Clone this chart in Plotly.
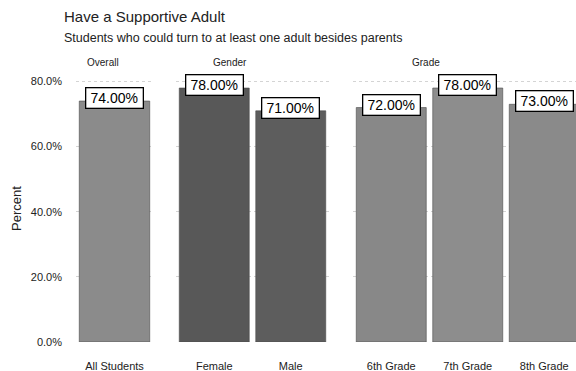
import plotly.graph_objects as go

# Data
overall_cats = ["All Students"]
overall_vals = [74]
gender_cats = ["Female", "Male"]
gender_vals = [78, 71]
grade_cats = ["6th Grade", "7th Grade", "8th Grade"]
grade_vals = [72, 78, 73]
panel_titles = ["Overall", "Gender", "Grade"]
y_ticks = [0, 20, 40, 60, 80]

overall_colors = ["#8b8b8b"]
gender_colors = ["#585858", "#5d5d5d"]
grade_colors = ["#888888", "#8d8d8d", "#8a8a8a"]

FONT = "Liberation Sans, Arial, sans-serif"
W, H = 576, 371
L, R, T, B = 76, 0, 75, 29
PW, PH = W - L - R, H - T - B


def px_x(px):
    return (px - L) / PW


def px_y(py):
    return (H - B - py) / PH


panels = [
    dict(cats=overall_cats, vals=overall_vals, colors=overall_colors, ax="x",
         domain=[px_x(76), px_x(153)], rng=[-0.5, 0.5], title_px=103),
    dict(cats=gender_cats, vals=gender_vals, colors=gender_colors, ax="x2",
         domain=[px_x(176), px_x(329)], rng=[-0.5, 1.5], title_px=230),
    dict(cats=grade_cats, vals=grade_vals, colors=grade_colors, ax="x3",
         domain=[px_x(353), px_x(576)], rng=[-0.5, 2.415], title_px=426),
]

fig = go.Figure()
annotations = []

for i, p in enumerate(panels):
    fig.add_trace(go.Bar(
        x=p["cats"], y=p["vals"], xaxis=p["ax"], yaxis="y",
        marker=dict(color=p["colors"], line=dict(color="#4a4a4a", width=0.6)),
        showlegend=False, hoverinfo="x+y",
    ))
    axname = "xaxis" if p["ax"] == "x" else "xaxis" + p["ax"][1:]
    fig.layout[axname] = dict(
        domain=p["domain"], range=p["rng"], type="category", anchor="y",
        showgrid=False, zeroline=False, showline=False, ticks="",
        ticklabelstandoff=16,
        tickfont=dict(family=FONT, size=11, color="#222"),
        fixedrange=True,
    )
    for c, v in zip(p["cats"], p["vals"]):
        annotations.append(dict(
            x=c, y=v, xref=p["ax"], yref="y", text=f"{v:.2f}%",
            showarrow=False, yshift=3, yanchor="middle", xanchor="center",
            width=52, height=15,
            bgcolor="white", bordercolor="black", borderwidth=1.3, borderpad=2,
            font=dict(family=FONT, size=14, color="black"),
        ))
    annotations.append(dict(
        x=px_x(p["title_px"]), y=px_y(62), xref="paper", yref="paper",
        text=panel_titles[i], showarrow=False, xanchor="center", yanchor="middle",
        font=dict(family=FONT, size=10, color="#222"),
    ))

annotations.append(dict(
    x=px_x(62), y=px_y(17), xref="paper", yref="paper",
    text="Have a Supportive Adult", showarrow=False, xanchor="left", yanchor="middle",
    font=dict(family=FONT, size=15, color="#222"),
))
annotations.append(dict(
    x=px_x(62), y=px_y(38), xref="paper", yref="paper",
    text="Students who could turn to at least one adult besides parents",
    showarrow=False, xanchor="left", yanchor="middle",
    font=dict(family=FONT, size=12.5, color="#222"),
))

fig.update_layout(
    width=W, height=H,
    margin=dict(l=L, r=R, t=T, b=B),
    paper_bgcolor="white", plot_bgcolor="white",
    bargap=0.085,
    yaxis=dict(
        range=[0, 82], tickvals=y_ticks, ticktext=[f"{t:.1f}%" for t in y_ticks],
        showgrid=True, gridcolor="#d4d4d4", griddash="dot", gridwidth=1,
        zeroline=False, showline=False, ticks="", ticklabelstandoff=13,
        tickfont=dict(family=FONT, size=11, color="#222"),
        title=dict(text="Percent", standoff=6, font=dict(family=FONT, size=13, color="#222")),
        fixedrange=True,
    ),
    annotations=annotations,
)

fig.write_html("out.html")
